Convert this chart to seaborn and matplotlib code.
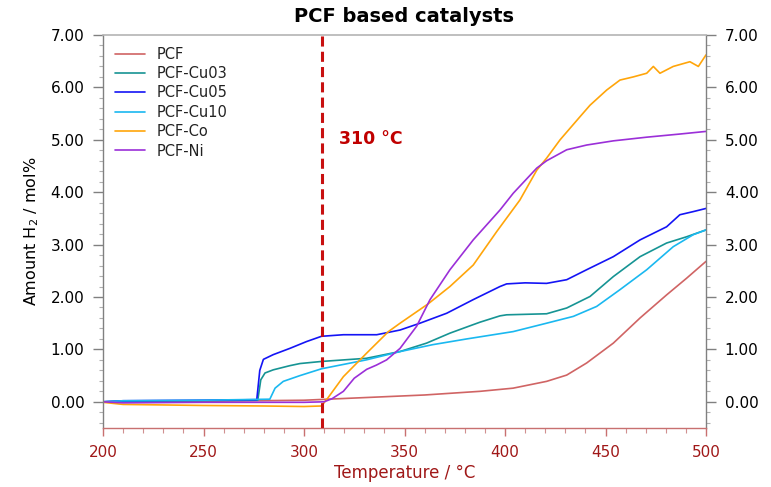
import numpy as np
import pandas as pd
import matplotlib
matplotlib.use("Agg")
import matplotlib.pyplot as plt
import seaborn as sns
from matplotlib.ticker import MultipleLocator, FormatStrFormatter

# ---- data ----
series_names = ["PCF", "PCF-Cu03", "PCF-Cu05", "PCF-Cu10", "PCF-Co", "PCF-Ni"]

pcf_x = [200, 250, 300, 330, 360, 387.6, 404, 420.7, 430.7, 440.6, 453.9, 467.2, 480.4, 490.4, 500]
pcf_y = [0.0, 0.01, 0.03, 0.08, 0.13, 0.20, 0.26, 0.39, 0.51, 0.74, 1.12, 1.60, 2.04, 2.36, 2.68]

cu03_x = [200, 210, 250, 277, 278.5, 280.6, 284.7, 293, 298, 308.7, 331, 347.8, 361, 372.6, 384,
          387.6, 397.5, 400.8, 420.7, 430.7, 442.3, 453.9, 467.2, 480.4, 490.4, 500]
cu03_y = [0.0, 0.01, 0.02, 0.03, 0.42, 0.55, 0.61, 0.69, 0.73, 0.77, 0.83, 0.96, 1.12, 1.31, 1.47,
          1.52, 1.64, 1.66, 1.68, 1.79, 2.01, 2.39, 2.77, 3.03, 3.15, 3.28]

cu05_x = [200, 210, 250, 276.5, 278, 279.8, 284.7, 293, 301.3, 308.7, 319.6, 336.2, 347.8, 357.7,
          371, 384.2, 397.5, 400.8, 410, 420.7, 430.7, 440.6, 453.9, 467.2, 480.4, 487, 493.7, 500]
cu05_y = [0.0, 0.02, 0.03, 0.04, 0.60, 0.81, 0.90, 1.02, 1.15, 1.25, 1.28, 1.28, 1.37, 1.50,
          1.69, 1.95, 2.20, 2.25, 2.27, 2.26, 2.33, 2.52, 2.77, 3.09, 3.34, 3.57, 3.63, 3.69]

cu10_x = [200, 210, 250, 283, 285.6, 289.7, 298, 308.7, 331, 348, 364, 381, 397.5, 404.1, 420.7,
          434, 445.6, 457.2, 470.5, 483.7, 493.7, 500]
cu10_y = [0.0, 0.02, 0.03, 0.05, 0.26, 0.39, 0.50, 0.63, 0.80, 0.96, 1.09, 1.20, 1.30, 1.34, 1.50,
          1.63, 1.82, 2.14, 2.52, 2.96, 3.19, 3.28]

co_x = [200, 210, 250, 280, 300, 308.7, 312, 319.6, 331.2, 342, 347.8, 361.8, 372.6, 384.2, 395.9,
        407.4, 415.8, 420.7, 427.4, 437.3, 442.3, 450.6, 457.2, 463.8, 470.5, 473.8, 477.1, 483.7,
        492, 496.2, 500]
co_y = [-0.01, -0.05, -0.07, -0.08, -0.09, -0.08, 0.08, 0.48, 0.93, 1.34, 1.50, 1.87, 2.20, 2.61, 3.25,
        3.85, 4.42, 4.65, 5.00, 5.44, 5.66, 5.95, 6.14, 6.20, 6.27, 6.40, 6.27, 6.40,
        6.49, 6.40, 6.62]

ni_x = [200, 210, 250, 300, 310, 314, 319.6, 325, 331.2, 336, 341.1, 347.8, 356, 362.7, 372.6, 384.2,
        397.5, 404.1, 415.8, 420.7, 430.7, 440.6, 453.9, 470.5, 487, 500]
ni_y = [0.0, -0.02, -0.01, -0.01, 0.0, 0.06, 0.20, 0.45, 0.62, 0.70, 0.80, 1.02, 1.44, 1.95, 2.52, 3.09,
        3.66, 3.98, 4.46, 4.60, 4.81, 4.90, 4.98, 5.05, 5.11, 5.16]

marker_temp = 309
marker_label = "310 °C"

colors = ["#d06464", "#169494", "#1414f5", "#1ab8f0", "#ffa50a", "#9b2fd8"]

xs = [pcf_x, cu03_x, cu05_x, cu10_x, co_x, ni_x]
ys = [pcf_y, cu03_y, cu05_y, cu10_y, co_y, ni_y]
df = pd.concat(
    [pd.DataFrame({"T": x, "H2": y, "sample": n}) for n, x, y in zip(series_names, xs, ys)],
    ignore_index=True,
)

# ---- plot ----
sns.set_style("white")
plt.rcParams["font.family"] = ["DejaVu Sans"]
plt.rcParams["text.color"] = "black"
plt.rcParams["axes.labelcolor"] = "black"
plt.rcParams["xtick.color"] = "black"
plt.rcParams["ytick.color"] = "black"

fig = plt.figure(figsize=(7.71, 4.87), dpi=100)
ax = fig.add_axes([103 / 771, 1 - 428 / 487, 603 / 771, 393 / 487])

sns.lineplot(data=df, x="T", y="H2", hue="sample", hue_order=series_names,
             palette=colors, estimator=None, sort=True, linewidth=1.2, ax=ax)

ax.axvline(marker_temp, color="#c81010", lw=2.2, ls=(0, (3.3, 1.7)), zorder=5)
ax.text(317.5, 5.02, marker_label, color="#c00000", fontsize=12.5, fontweight="bold",
        family=["Liberation Sans Narrow", "DejaVu Sans"], ha="left", va="center")

ax.set_xlim(200, 500)
ax.set_ylim(-0.5, 7.0)
ax.xaxis.set_major_locator(MultipleLocator(50))
ax.xaxis.set_minor_locator(MultipleLocator(10))
ax.yaxis.set_major_locator(MultipleLocator(1.0))
ax.yaxis.set_minor_locator(MultipleLocator(0.2))
ax.yaxis.set_major_formatter(FormatStrFormatter("%.2f"))

xcol = "#a01818"
ax.tick_params(axis="x", which="major", direction="out", length=6, width=1, color="#c87070",
               labelcolor=xcol, labelsize=11, pad=6, bottom=True)
ax.tick_params(axis="x", which="minor", direction="out", length=3.5, width=0.8, color="#d09090",
               bottom=True)
ax.tick_params(axis="y", which="major", direction="out", length=7.5, width=1, color="#808080",
               labelcolor="black", labelsize=11, pad=6, left=True, right=True,
               labelleft=True, labelright=True)
ax.tick_params(axis="y", which="minor", direction="out", length=3, width=0.8, color="#b0b0b0",
               left=True, right=True)

for side in ["left", "right"]:
    ax.spines[side].set_color("#808080")
    ax.spines[side].set_linewidth(1.0)
ax.spines["bottom"].set_color("#c87070")
ax.spines["bottom"].set_linewidth(1.0)
ax.spines["top"].set_color("#b4b4b4")
ax.spines["top"].set_linewidth(1.2)

ax.set_xlabel("Temperature / °C", color=xcol, fontsize=12, labelpad=3)
ax.set_ylabel("Amount H$_2$ / mol%", color="black", fontsize=11.5, labelpad=7)
ax.set_title("PCF based catalysts", color="black", fontsize=14, fontweight="bold", pad=9)

leg = ax.legend(loc="upper left", frameon=False, fontsize=10.5, handlelength=2.1,
                handletextpad=0.8, labelspacing=0.3, borderaxespad=0.4, borderpad=0.4)
for t in leg.get_texts():
    t.set_color("#222222")

fig.savefig("out.png", dpi=100)
